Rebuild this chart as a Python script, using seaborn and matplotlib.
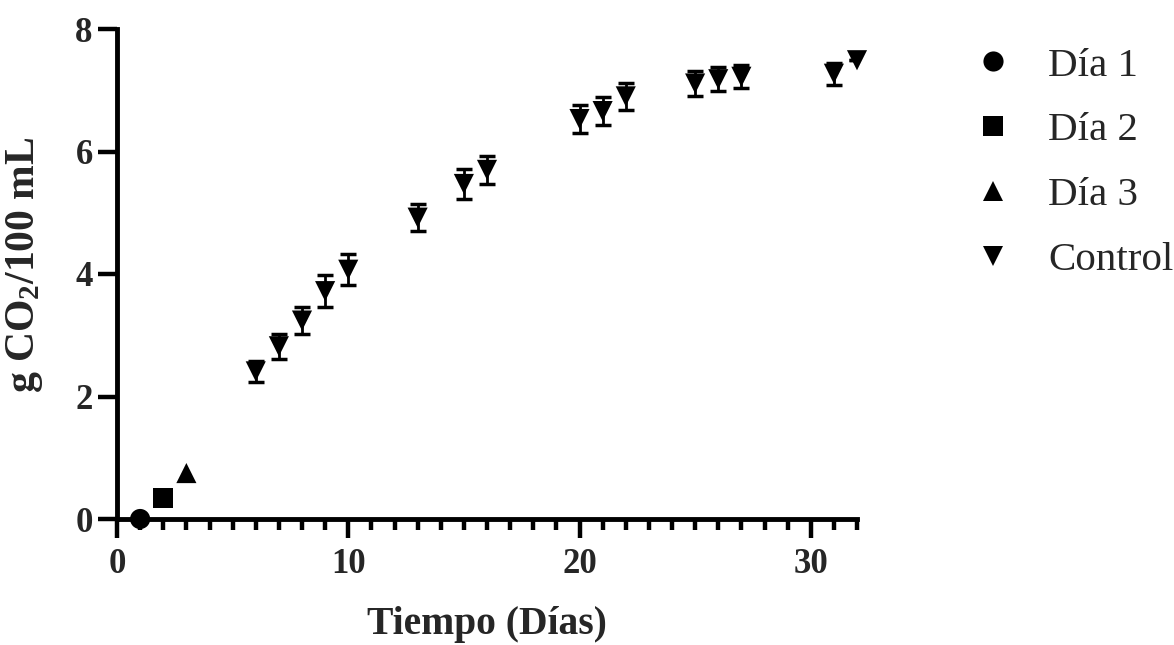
import numpy as np
import pandas as pd
import matplotlib
matplotlib.use("Agg")
import matplotlib.pyplot as plt
import seaborn as sns
from matplotlib.lines import Line2D
from matplotlib.ticker import MultipleLocator

# ---- data ----
series_names = ["Día 1", "Día 2", "Día 3", "Control"]
dia1_x = [1]
dia1_y = [0.0]
dia2_x = [2]
dia2_y = [0.34]
dia3_x = [3]
dia3_y = [0.75]
control_x = [6, 7, 8, 9, 10, 13, 15, 16, 20, 21, 22, 25, 26, 27, 31, 32]
control_y = [2.41, 2.82, 3.24, 3.72, 4.07, 4.92, 5.47, 5.70, 6.53, 6.66, 6.90,
             7.11, 7.18, 7.22, 7.27, 7.49]
control_err = [0.17, 0.20, 0.22, 0.26, 0.25, 0.22, 0.25, 0.23, 0.23, 0.23, 0.22,
               0.20, 0.20, 0.19, 0.18, 0.0]
x_ticks = [0, 10, 20, 30]
y_ticks = [0, 2, 4, 6, 8]

df = pd.concat([
    pd.DataFrame({"x": dia1_x, "y": dia1_y, "serie": series_names[0]}),
    pd.DataFrame({"x": dia2_x, "y": dia2_y, "serie": series_names[1]}),
    pd.DataFrame({"x": dia3_x, "y": dia3_y, "serie": series_names[2]}),
    pd.DataFrame({"x": control_x, "y": control_y, "serie": series_names[3]}),
], ignore_index=True)

markers = {"Día 1": "o", "Día 2": "s", "Día 3": "^", "Control": "v"}

sns.set_theme(style="ticks")
plt.rcParams["font.family"] = ["Liberation Serif", "DejaVu Serif"]
plt.rcParams["mathtext.fontset"] = "custom"
plt.rcParams["mathtext.rm"] = "Liberation Serif"
plt.rcParams["mathtext.bf"] = "Liberation Serif:bold"
plt.rcParams["mathtext.default"] = "bf"

fig = plt.figure(figsize=(11.74, 6.45), dpi=100)
ax = fig.add_axes([117 / 1174, 1 - 519 / 645, 740 / 1174, 490 / 645])

# error bars (behind markers)
ax.errorbar(control_x, control_y, yerr=control_err, fmt="none", ecolor="black",
            elinewidth=2.0, capsize=6, capthick=2.5, zorder=2)

sns.scatterplot(data=df, x="x", y="y", style="serie", markers=markers,
                color="black", s=210, linewidth=0, edgecolor="black",
                legend=False, ax=ax, zorder=4, clip_on=False)

ax.set_xlim(0, 32)
ax.set_ylim(0, 8)
ax.set_xticks(x_ticks)
ax.set_yticks(y_ticks)
ax.xaxis.set_minor_locator(MultipleLocator(1))

for s in ["top", "right"]:
    ax.spines[s].set_visible(False)
for s in ["left", "bottom"]:
    ax.spines[s].set_linewidth(3.5)
    ax.spines[s].set_color("black")

ax.tick_params(axis="both", which="major", length=14, width=3.2, color="black",
               labelsize=25, direction="out")
ax.tick_params(axis="x", which="minor", length=8, width=3.2, color="black",
               direction="out")
ax.tick_params(axis="x", which="major", pad=7)
ax.tick_params(axis="y", which="major", pad=3.5)
for lab in ax.get_xticklabels() + ax.get_yticklabels():
    lab.set_fontweight("bold")

ax.set_xlabel("Tiempo (Días)", fontsize=28.5, fontweight="bold", labelpad=18)
ax.set_ylabel("g CO$_2$/100 mL", fontsize=30, fontweight="bold")
ax.yaxis.set_label_coords(-0.097, 0.52)

handles = [Line2D([0], [0], marker=markers[n], color="black", linestyle="none",
                  markersize=14.5, markeredgewidth=0) for n in series_names]
fig.legend(handles, series_names, loc="upper left",
           bbox_to_anchor=(973 / 1174, 1 - 47 / 645), frameon=False,
           fontsize=29.5, handlelength=1.0, handletextpad=0.84,
           labelspacing=0.66, borderpad=0, borderaxespad=0)

fig.savefig("out.png", dpi=100)
